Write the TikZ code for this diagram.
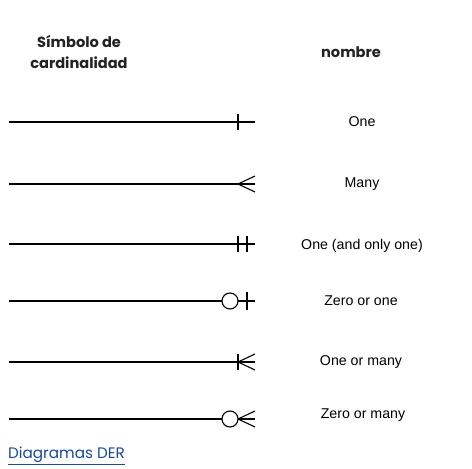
\documentclass[tikz,border=0pt]{standalone}
\usepackage{fontspec}
\setmainfont{Liberation Sans}
\newfontfamily\headfont{Poppins}
\usepackage{xcolor}
\usetikzlibrary{positioning, calc}

\definecolor{headgray}{RGB}{34,34,34}
\definecolor{linkblue}{RGB}{24,72,155}

\begin{document}
\begin{tikzpicture}[x=1pt, y=-1pt,
    header/.style={font=\headfont\bfseries\fontsize{14.6}{21}\selectfont, text=headgray, align=center, inner sep=0pt},
    label/.style={font=\fontsize{14.2}{16}\selectfont, text=black, inner sep=0pt},
    rel/.style={draw, line width=1.1pt},
    sym/.style={draw, line width=1.1pt},
    ring/.style={circle, draw, line width=1.1pt, fill=white, minimum size=16pt, inner sep=0pt}]

    \useasboundingbox (0,0) rectangle (472,469);

    % headers
    \node [header] (hsym) at (79,52) {Símbolo de\\cardinalidad};
    \node [header] (hname) at (351,52) {nombre};

    % line ends
    \coordinate (s1) at (9,122);  \coordinate (e1) at (255,122);
    \coordinate (s2) at (9,184);  \coordinate (e2) at (255,184);
    \coordinate (s3) at (9,244);  \coordinate (e3) at (255,244);
    \coordinate (s4) at (9,301);  \coordinate (e4) at (255,301);
    \coordinate (s5) at (9,362);  \coordinate (e5) at (255,362);
    \coordinate (s6) at (9,419);  \coordinate (e6) at (255,419);

    % names
    \node [label] (one) at (362,122) {One};
    \node [label] (many) at (362,184) {Many};
    \node [label] (onlyone) at (362,246) {One (and only one)};
    \node [label] (zeroone) at (361,301) {Zero or one};
    \node [label] (onemany) at (361,362) {One or many};
    \node [label] (zeromany) at (363,415) {Zero or many};

    % One
    \path [rel] (s1) -- (e1);
    \draw [sym] ($(e1)+(-17,-8)$) -- ($(e1)+(-17,8)$);

    % Many
    \path [rel] (s2) -- (e2);
    \draw [sym] (e2) ++(0,-8) -- ($(e2)+(-17,0)$) -- ($(e2)+(0,8)$);

    % One (and only one)
    \path [rel] (s3) -- (e3);
    \draw [sym] ($(e3)+(-17,-8)$) -- ($(e3)+(-17,8)$);
    \draw [sym] ($(e3)+(-8,-8)$) -- ($(e3)+(-8,8)$);

    % Zero or one
    \path [rel] (s4) -- (e4);
    \draw [sym] ($(e4)+(-8,-9)$) -- ($(e4)+(-8,9)$);
    \node [ring] (c4) at ($(e4)+(-25,0)$) {};

    % One or many
    \path [rel] (s5) -- (e5);
    \draw [sym] ($(e5)+(-17,-8)$) -- ($(e5)+(-17,8)$);
    \draw [sym] (e5) ++(0,-8) -- ($(e5)+(-17,0)$) -- ($(e5)+(0,8)$);

    % Zero or many
    \path [rel] (s6) -- (e6);
    \draw [sym] (e6) ++(0,-8) -- ($(e6)+(-17,0)$) -- ($(e6)+(0,8)$);
    \node [ring] (c6) at ($(e6)+(-25,0)$) {};

    % link
    \node [anchor=west, inner sep=0pt, text=linkblue, font=\headfont\fontsize{15.2}{17}\selectfont] (link) at (8,456) {\underline{Diagramas DER}};
\end{tikzpicture}
\end{document}
